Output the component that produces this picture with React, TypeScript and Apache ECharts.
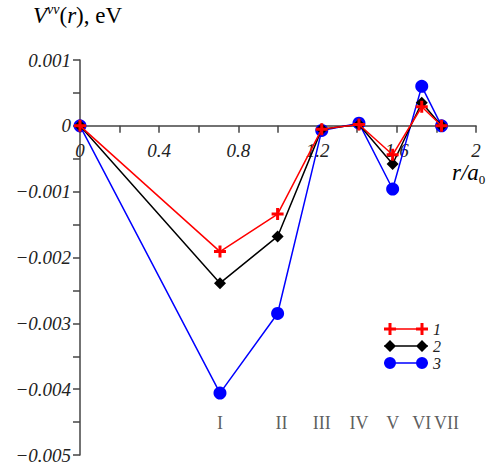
import React, { useEffect, useRef } from "react";
import * as echarts from "echarts";

const rPositions = [0, 0.707, 0.998, 1.221, 1.409, 1.579, 1.726, 1.826];
const series1 = [0, -0.00191, -0.00134, -0.00005, 0.00002, -0.00044, 0.00029, 0];
const series2 = [0, -0.00239, -0.00168, -0.00005, 0.00002, -0.00058, 0.00035, 0];
const series3 = [0, -0.00406, -0.00285, -0.00007, 0.00004, -0.00096, 0.0006, 0];
const romanLabels = ["I", "II", "III", "IV", "V", "VI", "VII"];
const legendNames = ["1", "2", "3"];

const SERIF = "'Liberation Serif', 'DejaVu Serif', serif";

function plus(cx: number) {
  return `M${cx - 1.5} 0H${cx + 1.5}V4.5H${cx + 6}V7.5H${cx + 1.5}V12H${cx - 1.5}V7.5H${cx - 6}V4.5H${cx - 1.5}Z`;
}
function diamond(cx: number) {
  return `M${cx} 0L${cx + 6} 6L${cx} 12L${cx - 6} 6Z`;
}
function circ(cx: number) {
  return `M${cx - 6} 6A6 6 0 1 1 ${cx + 6} 6A6 6 0 1 1 ${cx - 6} 6Z`;
}
const lineBar = "M0 5.25H44V6.75H0Z";
const legendIcons = [
  "path://" + lineBar + plus(6) + plus(38),
  "path://" + lineBar + diamond(6) + diamond(38),
  "path://" + lineBar + circ(6) + circ(38),
];

const Y_MIN = -0.005;
const Y_MAX = 0.001;
const GRID_TOP = 60;
const GRID_BOTTOM = 13;
const H = 468;

export default function App() {
  const ref = useRef<HTMLDivElement>(null);
  useEffect(() => {
    if (!ref.current) return;
    const chart = echarts.init(ref.current, undefined, { renderer: "svg" });
    const toPts = (vals: number[]) => vals.map((v, i) => [rPositions[i], v]);
    const romanY = -0.00451;
    const gridH = H - GRID_TOP - GRID_BOTTOM;
    const zeroOffset = -(gridH * (0 - Y_MIN)) / (Y_MAX - Y_MIN);
    const labelStyle = { fontFamily: SERIF, fontStyle: "italic", fontSize: 19, color: "#222" };
    const axisColor = "#444";
    chart.setOption({
      animation: false,
      grid: { left: 80, right: 18, top: GRID_TOP, bottom: GRID_BOTTOM, outerBoundsMode: "none", containLabel: false },
      xAxis: {
        type: "value",
        min: 0,
        max: 2,
        interval: 0.4,
        offset: zeroOffset,
        axisLine: { onZero: false, lineStyle: { color: axisColor, width: 1.5 } },
        axisTick: { show: true, length: 7, lineStyle: { color: axisColor, width: 1.5 } },
        minorTick: { show: true, splitNumber: 2, length: 7, lineStyle: { color: axisColor, width: 1.5 } },
        splitLine: { show: false },
        axisLabel: {
          ...labelStyle,
          margin: 15,
          formatter: (v: number) => (v === 0 ? "0" : String(Number(v.toFixed(1)))),
        },
      },
      yAxis: {
        type: "value",
        min: Y_MIN,
        max: Y_MAX,
        interval: 0.001,
        axisLine: { show: true, onZero: false, lineStyle: { color: axisColor, width: 1.5 } },
        axisTick: { show: true, length: 7, lineStyle: { color: axisColor, width: 1.5 } },
        minorTick: { show: true, splitNumber: 2, length: 7, lineStyle: { color: axisColor, width: 1.5 } },
        splitLine: { show: false },
        axisLabel: {
          ...labelStyle,
          margin: 9,
          formatter: (v: number) =>
            Math.abs(v) < 1e-9 ? "0" : (v < 0 ? "\u2212" : "") + Math.abs(v).toFixed(3),
        },
      },
      legend: {
        orient: "vertical",
        left: 379,
        top: 316,
        itemWidth: 44,
        itemHeight: 12,
        itemGap: 1,
        textStyle: { ...labelStyle, fontSize: 16, lineHeight: 16 },
        data: legendNames.map((n, i) => ({ name: n, icon: legendIcons[i] })),
        selectedMode: false,
      },
      graphic: [
        {
          type: "text",
          left: 33,
          top: 2,
          style: {
            text: "{v|V}{s|vv}{n|(}{i|r}{n|), eV}",
            rich: {
              v: { fontFamily: SERIF, fontStyle: "italic", fontSize: 23, lineHeight: 26, color: "#222" },
              s: { fontFamily: SERIF, fontStyle: "italic", fontSize: 14, lineHeight: 20, verticalAlign: "top", color: "#222" },
              n: { fontFamily: SERIF, fontSize: 23, lineHeight: 26, color: "#222" },
              i: { fontFamily: SERIF, fontStyle: "italic", fontSize: 23, lineHeight: 26, color: "#222" },
            },
          },
        },
        {
          type: "text",
          left: 452,
          top: 161,
          style: {
            text: "{i|r}{n|/}{i|a}{b|0}",
            rich: {
              i: { fontFamily: SERIF, fontStyle: "italic", fontSize: 23, lineHeight: 26, color: "#222" },
              n: { fontFamily: SERIF, fontStyle: "italic", fontSize: 23, lineHeight: 26, color: "#222" },
              b: { fontFamily: SERIF, fontSize: 13, lineHeight: 15, verticalAlign: "bottom", color: "#222" },
            },
          },
        },
      ],
      series: [
        {
          name: "roman",
          type: "scatter",
          silent: true,
          symbolSize: 1,
          itemStyle: { color: "transparent" },
          data: romanLabels.map((n, i) => ({
            name: n,
            value: [rPositions[i + 1], romanY],
            label: n === "II" ? { offset: [4, 0] } : n === "VII" ? { offset: [5, 0] } : undefined,
          })),
          label: {
            show: true,
            position: "inside",
            formatter: (p: any) => p.name,
            fontFamily: SERIF,
            fontSize: 18,
            color: "#333",
          },
          z: 1,
        },
        {
          name: "3",
          type: "line",
          data: toPts(series3),
          symbol: "circle",
          symbolSize: 13,
          color: "#0000ff",
          lineStyle: { color: "#0000ff", width: 1.5 },
          itemStyle: { color: "#0000ff" },
          z: 3,
        },
        {
          name: "2",
          type: "line",
          data: toPts(series2),
          symbol: "diamond",
          symbolSize: 12,
          color: "#000000",
          lineStyle: { color: "#000000", width: 1.5 },
          itemStyle: { color: "#000000" },
          z: 4,
        },
        {
          name: "1",
          type: "line",
          data: toPts(series1),
          symbol: "path://" + plus(6),
          symbolSize: 12,
          color: "#ff0000",
          lineStyle: { color: "#ff0000", width: 1.5 },
          itemStyle: { color: "#ff0000" },
          z: 5,
        },
      ],
    });
    return () => chart.dispose();
  }, []);
  return (
    <div
      ref={ref}
      style={{ position: "fixed", left: 0, top: 0, width: 494, height: 468, background: "#fff" }}
    />
  );
}
